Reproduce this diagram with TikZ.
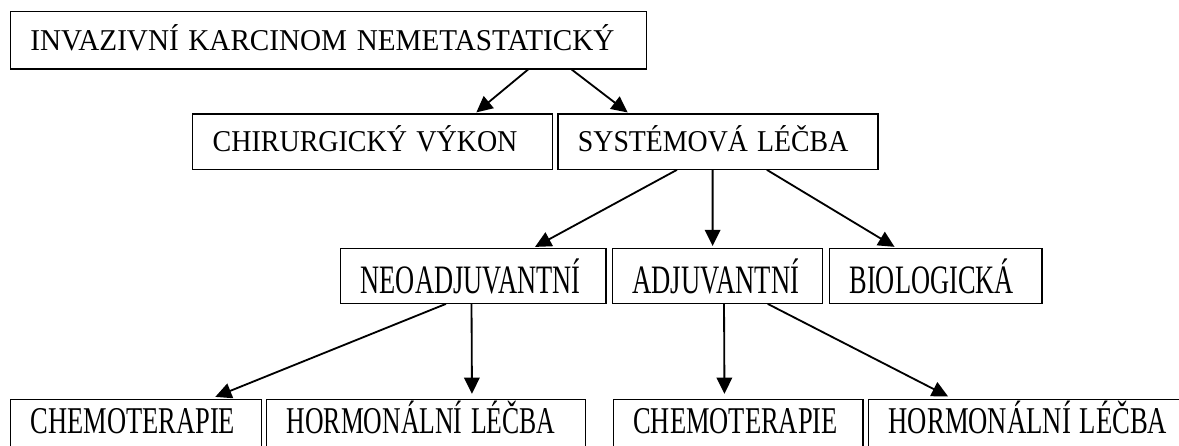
\documentclass[tikz,border=0pt]{standalone}
\usepackage{graphicx}
\usepackage{fontspec}
\setmainfont{Liberation Serif}
\usetikzlibrary{arrows.meta, positioning, calc}

% narrow (condensed) text as in the source picture
\newcommand{\cond}[2]{\scalebox{#1}[1]{#2}}

\begin{document}
\begin{tikzpicture}[x=0.025cm, y=-0.025cm,
    box/.style={draw, line width=0.8pt, align=left, inner xsep=0.5cm, inner ysep=0pt},
    rowA/.style={box, minimum height=1.43cm, text height=14.2pt, text depth=0pt, font=\fontsize{21.5}{24}\selectfont},
    rowB/.style={box, minimum height=1.38cm, text height=14.2pt, text depth=0pt, font=\fontsize{21.5}{24}\selectfont},
    rowC/.style={box, minimum height=1.375cm, text height=24.7pt, text depth=0pt, font=\fontsize{28.7}{32}\selectfont},
    rowD/.style={box, minimum height=1.375cm, text height=17.8pt, text depth=8.5pt, font=\fontsize{26.9}{30}\selectfont},
    arr/.style={-{Triangle[length=11.5pt,width=11pt]}, line width=1.3pt, shorten >=1.2pt},
    arrlow/.style={arr, shorten >=3.5pt}
]
    \useasboundingbox (0,0) rectangle (1179,446);

    \node[rowA, text width=14.89cm] (invaz)  at (328.25,40.35) {\cond{0.964}{INVAZIVNÍ KARCINOM NEMETASTATICKÝ}};
    \node[rowB, text width=7.99cm]  (chir)   at (372.5,141.65) {\cond{0.926}{CHIRURGICKÝ VÝKON}};
    \node[rowB, text width=7.0cm]   (system) at (718,141.65)   {\cond{0.92}{SYSTÉMOVÁ LÉČBA}};
    \node[rowC, text width=5.63cm]  (neo)    at (473.35,275.8) {\cond{0.655}{NEOADJUVANTNÍ}};
    \node[rowC, text width=4.24cm]  (adj)    at (717.25,275.8) {\cond{0.66}{ADJUVANTNÍ}};
    \node[rowC, text width=4.31cm]  (bio)    at (935.8,275.8)  {\cond{0.654}{BIOLOGICKÁ}};
    \node[rowD, text width=5.28cm]  (chemoA) at (136.25,426.8) {\cond{0.70}{CHEMOTERAPIE}};
    \node[rowD, text width=6.97cm]  (hormA)  at (426.15,426.8) {\cond{0.68}{HORMONÁLNÍ LÉČBA}};
    \node[rowD, text width=5.24cm]  (chemoB) at (738.15,426.8) {\cond{0.70}{CHEMOTERAPIE}};
    \node[rowD, text width=7.03cm]  (hormB)  at (1029.35,426.8) {\cond{0.705}{HORMONÁLNÍ LÉČBA}};

    \draw[arr] ([xshift=4.994cm]invaz.south) -- ([xshift=2.5625cm]chir.north);
    \draw[arr] ([xshift=6.084cm]invaz.south) -- ([xshift=-2.225cm]system.north);
    \draw[arr] ([xshift=-1.025cm]system.south) -- ([xshift=1.504cm]neo.north);
    \draw[arr] ([xshift=-0.135cm]system.south) -- ([xshift=-0.116cm]adj.north);
    \draw[arr] ([xshift=1.22cm]system.south) -- ([xshift=-0.995cm]bio.north);
    \draw[arrlow] ([xshift=-0.684cm]neo.south) -- ([xshift=1.861cm]chemoA.north);
    \draw[arrlow] ([xshift=-0.046cm]neo.south) -- ([xshift=1.146cm]hormA.north);
    \draw[arrlow] ([xshift=0.169cm]adj.south) -- ([xshift=-0.341cm]chemoB.north);
    \draw[arrlow] ([xshift=1.261cm]adj.south) -- ([xshift=-1.921cm]hormB.north);
\end{tikzpicture}
\end{document}
